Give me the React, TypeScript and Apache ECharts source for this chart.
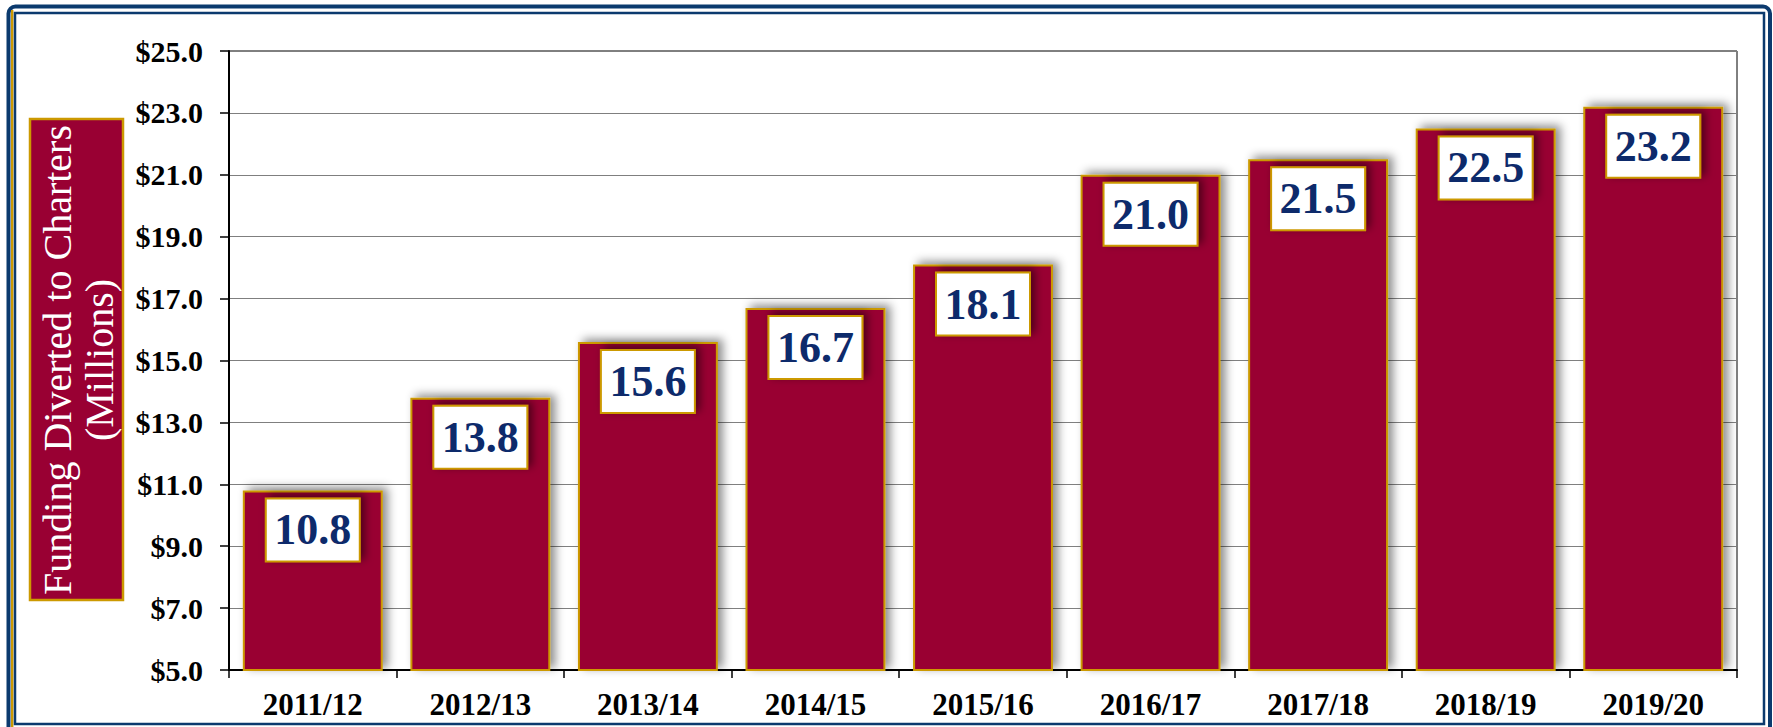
import React, { useEffect, useRef } from "react";
import * as echarts from "echarts";

const categories = ["2011/12", "2012/13", "2013/14", "2014/15", "2015/16", "2016/17", "2017/18", "2018/19", "2019/20"];
const fundingValues = [10.8, 13.8, 15.6, 16.7, 18.1, 21.0, 21.5, 22.5, 23.2];
const yMin = 5;
const yMax = 25;
const yStep = 2;
const axisTitle = "Funding Diverted to Charters\n(Millions)";

const NAVY = "#0b3a6e";
const GOLD = "#cc9900";
const CRIMSON = "#990033";
const LABEL_NAVY = "#0d2a6b";
const SERIF = '"Liberation Serif", "Times New Roman", serif';

export default function App() {
  const ref = useRef<HTMLDivElement | null>(null);

  useEffect(() => {
    if (!ref.current) return;
    const chart = echarts.init(ref.current, undefined, { renderer: "svg" });
    chart.setOption({
      animation: false,
      backgroundColor: "#ffffff",
      grid: {
        left: 229,
        right: 36,
        top: 51,
        bottom: 57,
        show: true,
        borderColor: "#000000",
        borderWidth: 1,
        backgroundColor: "transparent",
      },
      xAxis: {
        type: "category",
        data: categories,
        axisLine: { show: true, lineStyle: { color: "#000000", width: 2 } },
        axisTick: { show: true, length: 8, lineStyle: { color: "#000000", width: 1.5 } },
        axisLabel: {
          margin: 19,
          color: "#000000",
          fontFamily: SERIF,
          fontWeight: "bold",
          fontSize: 31,
        },
      },
      yAxis: {
        type: "value",
        min: yMin,
        max: yMax,
        interval: yStep,
        axisLine: { show: true, lineStyle: { color: "#000000", width: 2 } },
        axisTick: { show: true, length: 9, lineStyle: { color: "#000000", width: 1.5 } },
        splitLine: { show: true, lineStyle: { color: "#7f7f7f", width: 1.2 } },
        axisLabel: {
          margin: 26,
          color: "#000000",
          fontFamily: SERIF,
          fontWeight: "bold",
          fontSize: 30,
          formatter: (v: number) => "$" + v.toFixed(1),
        },
      },
      series: [
        {
          type: "bar",
          data: fundingValues,
          barWidth: "83.5%",
          itemStyle: {
            color: CRIMSON,
            borderColor: GOLD,
            borderWidth: 2,
            shadowColor: "rgba(0,0,0,0.45)",
            shadowBlur: 10,
            shadowOffsetX: 5,
            shadowOffsetY: -3,
          },
          label: {
            show: true,
            position: "insideTop",
            distance: 9,
            formatter: (p: any) => Number(p.value).toFixed(1),
            color: LABEL_NAVY,
            fontFamily: SERIF,
            fontWeight: "bold",
            fontSize: 44,
            backgroundColor: "#ffffff",
            borderColor: GOLD,
            borderWidth: 2,
            width: 92,
            height: 61,
            lineHeight: 61,
            align: "center",
            padding: 0,
            shadowColor: "rgba(0,0,0,0.5)",
            shadowBlur: 8,
            shadowOffsetX: 4,
            shadowOffsetY: -3,
          },
        },
      ],
      graphic: [
        {
          type: "rect",
          z: 100,
          silent: true,
          shape: { x: 8.5, y: 6.5, width: 1761.5, height: 730, r: 7 },
          style: { fill: "none", stroke: NAVY, lineWidth: 4 },
        },
        {
          type: "line",
          z: 100,
          silent: true,
          shape: { x1: 12.2, y1: 10, x2: 12.2, y2: 727 },
          style: { stroke: GOLD, lineWidth: 2.4 },
        },
        {
          type: "rect",
          z: 100,
          silent: true,
          shape: { x: 15, y: 13, width: 1749, height: 711 },
          style: { fill: "none", stroke: NAVY, lineWidth: 2.5 },
        },
        {
          type: "rect",
          z: 90,
          silent: true,
          shape: { x: 30, y: 119, width: 93, height: 481 },
          style: { fill: CRIMSON, stroke: GOLD, lineWidth: 2.5 },
        },
        {
          type: "text",
          z: 91,
          silent: true,
          x: 78,
          y: 360,
          rotation: Math.PI / 2,
          style: {
            text: axisTitle,
            fill: "#ffffff",
            fontFamily: SERIF,
            fontSize: 40,
            lineHeight: 42,
            align: "center",
            verticalAlign: "middle",
          },
        },
      ],
    });
    return () => chart.dispose();
  }, []);

  return (
    <div
      ref={ref}
      style={{ position: "absolute", left: 0, top: 0, width: "1773px", height: "727px" }}
    />
  );
}
